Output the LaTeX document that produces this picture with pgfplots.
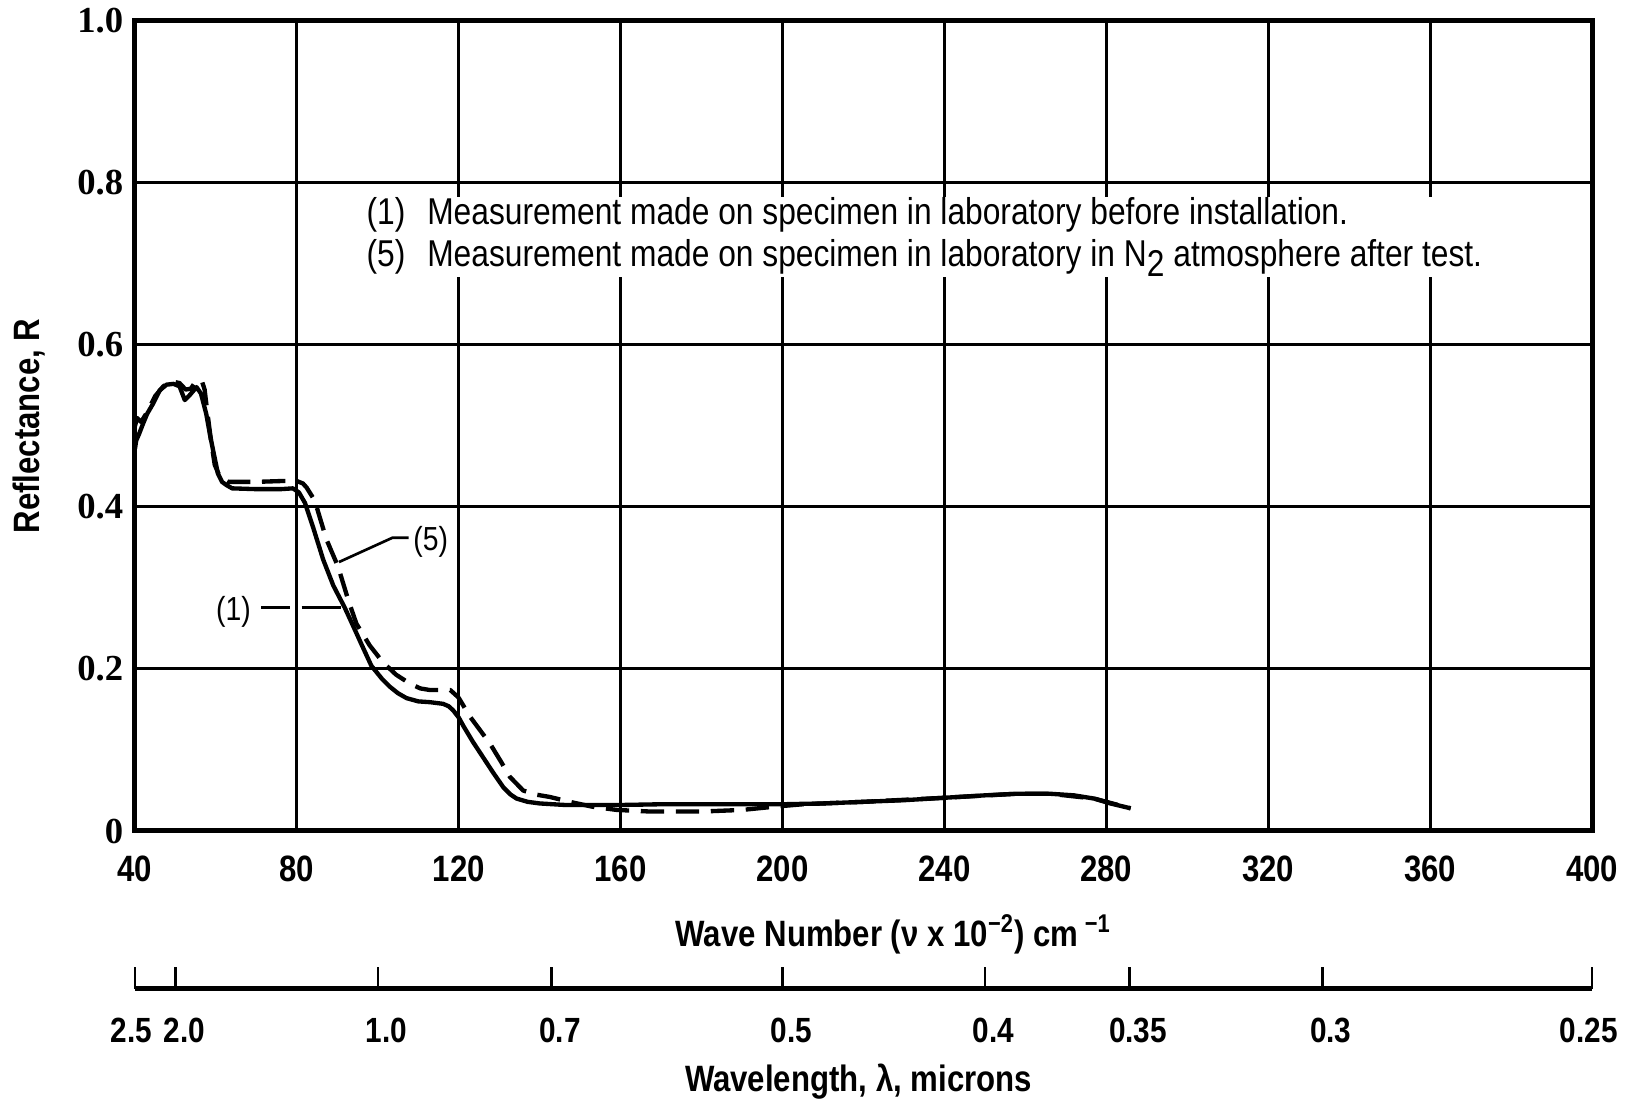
\documentclass[border=0pt]{standalone}
\usepackage{fontspec}
\setmainfont{Liberation Sans}[FakeStretch=0.85]
\newfontfamily\serifnum{Liberation Serif}
\usepackage{pgfplots}
\pgfplotsset{compat=1.18}
\pgfplotstableread{
x y
40 0.472
40.3 0.482
41 0.490
42 0.503
43 0.515
44.4 0.527
46.1 0.544
47.8 0.551
49.5 0.552
51 0.549
52.3 0.532
53.5 0.538
55.2 0.548
56.3 0.540
57.6 0.515
58.5 0.490
59.3 0.470
60.5 0.441
61.5 0.431
62.6 0.427
64 0.423
70 0.422
76 0.422
79 0.423
80.5 0.418
82 0.405
84 0.375
86.5 0.335
89 0.303
91.8 0.276
94 0.252
96 0.230
98.4 0.204
101 0.188
103 0.178
105 0.170
107.1 0.164
110 0.160
112.9 0.159
116.1 0.157
117.5 0.154
118.6 0.149
120 0.140
121.1 0.130
123.5 0.110
126 0.091
128.5 0.072
131 0.054
132.8 0.045
134.3 0.040
137 0.036
140 0.034
146.6 0.032
159 0.032
170 0.033
185 0.033
200 0.033
210 0.034
220 0.036
230 0.038
240 0.041
250 0.044
258 0.046
266 0.046
272 0.044
277 0.040
281 0.034
286 0.028
}\curveone
\pgfplotstableread{
x y
40 0.500
40.5 0.510
41.5 0.505
43 0.517
45 0.537
47 0.549
49 0.555
51 0.553
52.5 0.545
53.8 0.546
55 0.555
56.5 0.556
57.2 0.545
57.8 0.520
58.7 0.485
59.7 0.452
61 0.437
63 0.431
70 0.431
76 0.432
80 0.432
81.5 0.429
82.4 0.424
84.4 0.408
87.3 0.360
90.2 0.326
92.7 0.285
94.7 0.256
98 0.229
101.3 0.208
104.5 0.193
107.9 0.182
110.5 0.176
112.9 0.174
117.9 0.174
119.9 0.165
122.8 0.141
127.7 0.108
130.5 0.085
132.6 0.067
135.9 0.050
139 0.045
142.5 0.042
147.4 0.036
153 0.030
159 0.026
167.3 0.024
180 0.024
190 0.026
198 0.030
205 0.033
220 0.036
240 0.041
258 0.046
266 0.046
277 0.040
286 0.028
}\curvefive
\begin{document}
\begin{tikzpicture}
\useasboundingbox (-40.5pt,-81.3pt) rectangle (449.1pt,249.3pt);
\begin{axis}[
  at={(0pt,0pt)}, anchor=south west,
  scale only axis, width=437.1pt, height=243pt,
  xmin=40, xmax=400, ymin=0, ymax=1,
  xtick={40,80,120,160,200,240,280,320,360,400},
  xticklabels={40,80,120,160,200,240,280,320,360,400},
  ytick={0,0.2,0.4,0.6,0.8,1.0},
  yticklabels={0,0.2,0.4,0.6,0.8,1.0},
  grid=major, major grid style={black, line width=0.9pt},
  major tick length=0pt,
  axis line style={black, line width=1.5pt},
  xticklabel style={font=\fontsize{11}{13}\selectfont\bfseries, anchor=center, yshift=-11.4pt},
  yticklabel style={font=\fontsize{11}{13}\selectfont\serifnum\bfseries},
  xlabel={Wave Number (ν x 10\textsuperscript{−2}) cm\,\textsuperscript{−1}},
  ylabel={Reflectance, R},
  xlabel style={font=\fontsize{11}{13}\selectfont\bfseries, at={(axis description cs:0.5,-0.1276)}, anchor=center, xshift=9pt},
  ylabel style={font=\fontsize{11}{13}\selectfont\bfseries, at={(axis description cs:-0.073,0.5)}, anchor=center},
  clip=false
]
\addplot[black, line width=1.3pt, line join=round] table {\curveone};
\addplot[black, line width=1.3pt, line join=round, dash pattern=on 7pt off 3.5pt] table {\curvefive};
\node[fill=white, anchor=north west, align=left, inner xsep=3pt, inner ysep=0pt,
  font=\fontsize{11.2}{12.5}\selectfont] at (axis cs:94.6,0.783)
  {\makebox[18.2pt][l]{(1)}Measurement made on specimen in laboratory before installation.\\
   \makebox[18.2pt][l]{(5)}Measurement made on specimen in laboratory in N\raisebox{-0.55ex}{2} atmosphere after test.};
\node[font=\fontsize{10}{12}\selectfont, anchor=west, inner sep=1pt] at (axis cs:107.8,0.357) {(5)};
\node[font=\fontsize{10}{12}\selectfont, anchor=east, inner sep=1pt] at (axis cs:69.6,0.271) {(1)};
\draw[black, line width=0.8pt] (axis cs:107.6,0.362) -- (axis cs:103.6,0.362) -- (axis cs:90.4,0.332);
\draw[black, line width=0.8pt] (axis cs:71.2,0.276) -- (axis cs:78.3,0.276);
\draw[black, line width=0.8pt] (axis cs:81.2,0.276) -- (axis cs:90.8,0.276);
\end{axis}
\begin{axis}[
  at={(0pt,-47.4pt)}, anchor=south west,
  scale only axis, width=437.1pt, height=20pt,
  xmin=40, xmax=400, ymin=0, ymax=1,
  axis x line*=bottom, hide y axis,
  xtick={50,100,142.857,200,250,285.714,333.333},
  xticklabels={2.0,1.0,0.7,0.5,0.4,0.35,0.3},
  extra x ticks={40,400},
  extra x tick labels={2.5,0.25},
  extra x tick style={xticklabel style={xshift=-3.6pt}},
  xtick align=inside, major tick length=6.5pt,
  tick style={black, line width=0.8pt},
  axis line style={black, line width=1.5pt},
  xticklabel style={font=\fontsize{10.5}{13}\selectfont\bfseries, anchor=center, yshift=-12.3pt, xshift=2.6pt},
  xlabel={Wavelength, λ, microns},
  xlabel style={font=\fontsize{11}{13}\selectfont\bfseries, at={(axis description cs:0.5,0)}, anchor=center, yshift=-27.8pt, xshift=-1.5pt}
]
\end{axis}
\end{tikzpicture}
\end{document}
